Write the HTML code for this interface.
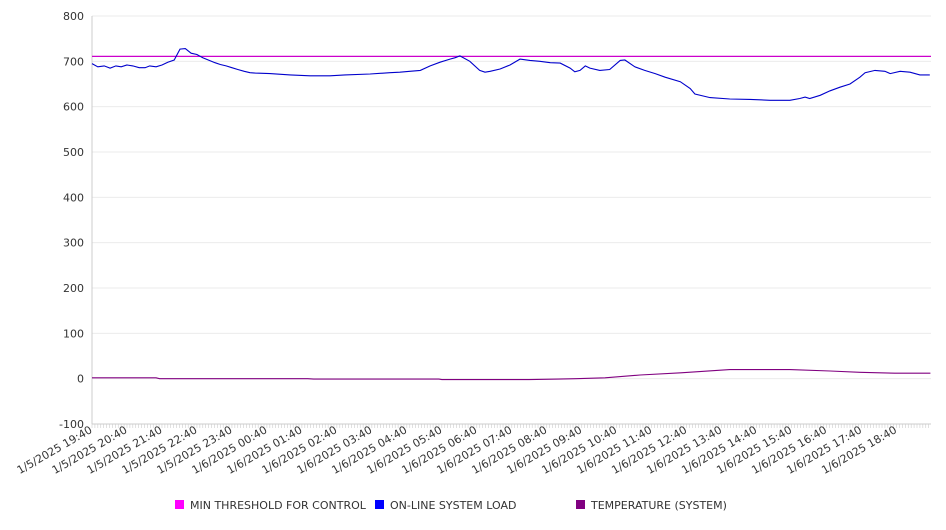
<!DOCTYPE html>
<html><head><meta charset="utf-8"><style>
body{margin:0;background:#fff;font-family:"DejaVu Sans","Liberation Sans",sans-serif;}
svg text{font-family:"DejaVu Sans","Liberation Sans",sans-serif;fill:#333;}
</style></head><body>
<svg id="chart" width="946" height="526" viewBox="0 0 946 526" xmlns="http://www.w3.org/2000/svg"></svg>
<script>
const yTicks=[-100,0,100,200,300,400,500,600,700,800];
const xLabels=["1/5/2025 19:40","1/5/2025 20:40","1/5/2025 21:40","1/5/2025 22:40","1/5/2025 23:40","1/6/2025 00:40","1/6/2025 01:40","1/6/2025 02:40","1/6/2025 03:40","1/6/2025 04:40","1/6/2025 05:40","1/6/2025 06:40","1/6/2025 07:40","1/6/2025 08:40","1/6/2025 09:40","1/6/2025 10:40","1/6/2025 11:40","1/6/2025 12:40","1/6/2025 13:40","1/6/2025 14:40","1/6/2025 15:40","1/6/2025 16:40","1/6/2025 17:40","1/6/2025 18:40"];
const loadMinutes=[0,10,21,31,41,50,60,70,81,91,99,110,120,130,141,151,160,170,180,190,201,211,220,230,240,250,261,271,280,305,340,374,408,434,477,511,528,545,563,580,597,614,623,631,648,665,674,683,700,717,734,751,768,786,803,820,828,837,846,854,871,888,906,914,931,948,966,983,1009,1026,1034,1060,1094,1129,1163,1197,1214,1223,1231,1249,1266,1283,1300,1317,1326,1343,1360,1369,1386,1403,1420,1437];
const loadValues=[695,688,690,685,690,688,692,690,686,686,690,688,692,698,703,727,728,718,715,708,702,697,693,690,686,682,678,675,674,673,670,668,668,670,672,675,676,678,680,690,698,705,708,712,700,680,676,678,683,692,705,702,700,697,696,685,677,680,690,685,680,682,702,703,688,680,673,665,655,640,628,620,617,616,614,614,618,621,618,625,635,643,650,665,675,680,678,673,678,676,670,670];
const tempMinutes=[0,110,116,370,380,595,600,750,800,830,880,940,1010,1094,1197,1266,1317,1377,1438];
const tempValues=[2,2,0,0,-1,-1,-2,-2,-1,0,2,8,13,20,20,17,14,12,12];
const thresholdValue=711;
const X0=92,X1=931,Y0=424,Y1=16,TMAX=1439;
const sx=m=>X0+(m/TMAX)*(X1-X0);
const sy=v=>Y0-(v-(-100))/900*(Y0-Y1);
const svg=document.getElementById('chart');
const NS='http://www.w3.org/2000/svg';
function mk(t,a,p){const e=document.createElementNS(NS,t);for(const k in a)e.setAttribute(k,a[k]);(p||svg).appendChild(e);return e;}
yTicks.forEach(v=>{
 const g=mk('line',{x1:X0,x2:X1,y1:sy(v),y2:sy(v),stroke:v===-100?'#ccc':'#ebebeb','stroke-width':1});
 
 
 const t=mk('text',{x:84,y:sy(v)+4,'text-anchor':'end','font-size':11});
 t.textContent=v;
 
 
});
const ax=mk('line',{x1:X0,x2:X0,y1:Y1,y2:Y0,stroke:'#ccc'});


for(let m=0;m<=TMAX;m+=5){
 const tk=mk('line',{x1:sx(m),x2:sx(m),y1:Y0,y2:Y0+4,stroke:'#ccc','stroke-width':0.6});
 
 
}
xLabels.forEach((l,i)=>{
 const x=sx(i*60)+1;
 const t=mk('text',{x:x,y:432,'text-anchor':'end','font-size':11,transform:`rotate(-30 ${x} 432)`});
 t.textContent=l;
 
 
});
const th=mk('line',{x1:X0,x2:X1,y1:sy(thresholdValue),y2:sy(thresholdValue),stroke:'#cc00cc','stroke-width':1.2});


function path(ms,vs,c,name){
 const d=ms.map((m,i)=>(i?'L':'M')+sx(m).toFixed(1)+','+sy(vs[i]).toFixed(1)).join('');
 const p=mk('path',{d:d,fill:'none',stroke:c,'stroke-width':1.1});
 
 
}
path(loadMinutes,loadValues,'#0000cc','system-load-line');
path(tempMinutes,tempValues,'#800080','temperature-line');
const leg=[['#ff00ff','MIN THRESHOLD FOR CONTROL',175],['#0000ff','ON-LINE SYSTEM LOAD',375],['#800080','TEMPERATURE (SYSTEM)',576]];
leg.forEach(([c,l,x])=>{
 const g=mk('g',{});
 
 
 mk('rect',{x:x,y:500,width:9,height:9,fill:c},g);
 const t=mk('text',{x:x+15,y:509,'font-size':11},g);
 t.textContent=l;
});
</script>
</body></html>
